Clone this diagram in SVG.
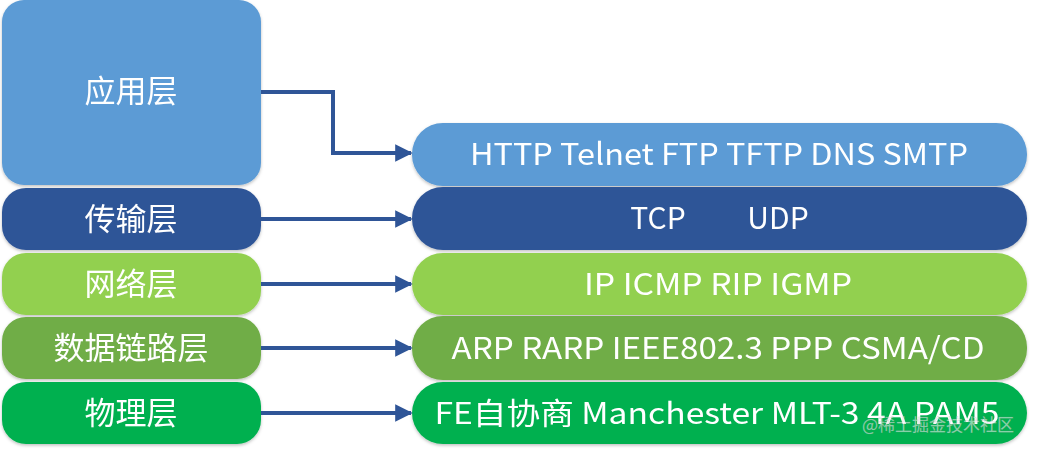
<svg xmlns="http://www.w3.org/2000/svg" width="1038" height="450" viewBox="0 0 1038 450">
<style>
.lbl{font-family:"Microsoft YaHei","Noto Sans CJK SC","Noto Sans",sans-serif;font-size:31px;fill:#fff;text-anchor:middle}
.pl{font-family:"Microsoft YaHei","Noto Sans CJK SC","Noto Sans",sans-serif;font-size:30px;fill:#fff;text-anchor:middle}
.conn{fill:none;stroke:#2F5597;stroke-width:4;marker-end:url(#ah)}
.wm{font-family:"Noto Sans CJK SC",sans-serif;font-size:17px;fill:#ffffff;fill-opacity:0.55;stroke:#888;stroke-opacity:0.35;stroke-width:0.5}
</style>
<defs>
<marker id="ah" viewBox="0 0 10 10" refX="9" refY="5" markerWidth="4.8" markerHeight="4.4" orient="auto" markerUnits="strokeWidth">
<path d="M0,0 L10,5 L0,10 z" fill="#2F5597"/>
</marker>
<filter id="sh" x="-5%" y="-10%" width="110%" height="130%">
<feDropShadow dx="0" dy="1.5" stdDeviation="1.5" flood-color="#000" flood-opacity="0.25"/>
</filter>
</defs>
<rect width="1038" height="450" fill="#fff"/>

<g id="app" filter="url(#sh)">
<rect x="2" y="0" width="259" height="185" rx="22" fill="#5B9BD5"/>
<text class="lbl" x="131" y="102">应用层</text>
</g>
<g id="transport" filter="url(#sh)">
<rect x="2" y="188" width="259" height="62" rx="24" fill="#2F5597"/>
<text class="lbl" x="131" y="230">传输层</text>
</g>
<g id="network" filter="url(#sh)">
<rect x="2" y="253" width="259" height="62" rx="24" fill="#92D050"/>
<text class="lbl" x="131" y="295">网络层</text>
</g>
<g id="datalink" filter="url(#sh)">
<rect x="2" y="317" width="259" height="62" rx="24" fill="#70AD47"/>
<text class="lbl" x="131" y="359">数据链路层</text>
</g>
<g id="physical" filter="url(#sh)">
<rect x="2" y="382" width="259" height="62" rx="24" fill="#00B050"/>
<text class="lbl" x="131" y="424">物理层</text>
</g>

<g id="app-proto" filter="url(#sh)">
<rect x="412" y="123" width="615" height="63" rx="31" fill="#5B9BD5"/>
<text class="pl" x="719" y="165" textLength="498" lengthAdjust="spacingAndGlyphs">HTTP Telnet FTP TFTP DNS SMTP</text>
</g>
<g id="transport-proto" filter="url(#sh)">
<rect x="412" y="187" width="615" height="63" rx="31" fill="#2F5597"/>
<text class="pl" y="229"><tspan x="658">TCP</tspan><tspan x="778">UDP</tspan></text>
</g>
<g id="network-proto" filter="url(#sh)">
<rect x="412" y="253" width="615" height="62" rx="31" fill="#92D050"/>
<text class="pl" x="718" y="295" textLength="268" lengthAdjust="spacingAndGlyphs">IP ICMP RIP IGMP</text>
</g>
<g id="datalink-proto" filter="url(#sh)">
<rect x="412" y="316" width="615" height="64" rx="31" fill="#70AD47"/>
<text class="pl" x="718" y="359" textLength="533" lengthAdjust="spacingAndGlyphs">ARP RARP IEEE802.3 PPP CSMA/CD</text>
</g>
<g id="physical-proto" filter="url(#sh)">
<rect x="412" y="382" width="615" height="62" rx="31" fill="#00B050"/>
<text class="pl" x="717" y="424" textLength="565" lengthAdjust="spacingAndGlyphs">FE自协商 Manchester MLT-3 4A PAM5</text>
</g>

<g id="connectors">
<path class="conn" d="M261,92 H333 V153 H411"/>
<path class="conn" d="M261,219 H411"/>
<path class="conn" d="M261,284 H411"/>
<path class="conn" d="M261,348 H411"/>
<path class="conn" d="M261,413 H411"/>
</g>

<text class="wm" x="862" y="431">@稀土掘金技术社区</text>
</svg>
